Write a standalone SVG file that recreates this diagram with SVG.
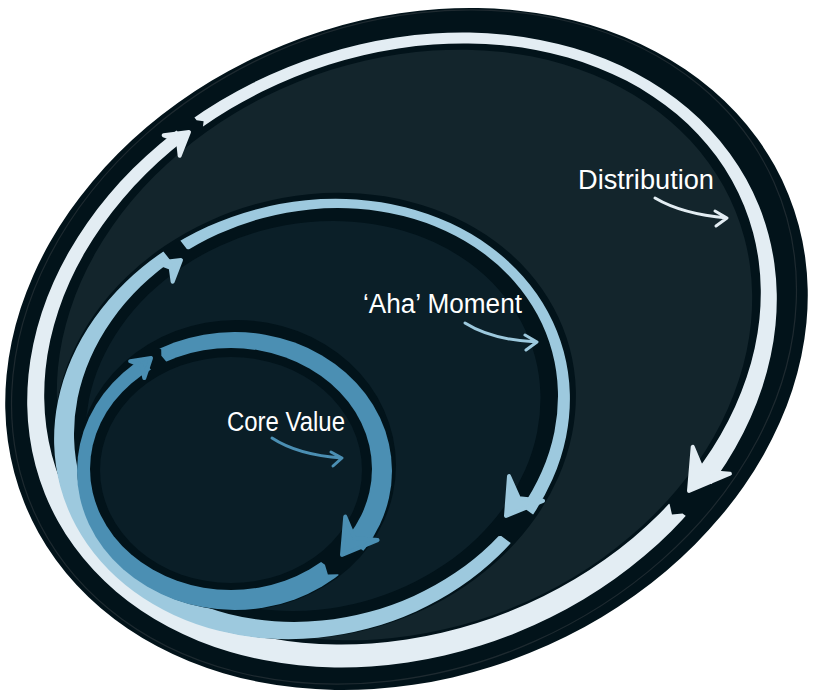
<svg xmlns="http://www.w3.org/2000/svg" width="825" height="697" viewBox="0 0 825 697">
<style>
.dark{fill:#02131a}
.lbl{font-family:"Liberation Sans","DejaVu Sans",sans-serif;font-size:27px;fill:#ffffff}
.m-on{fill:#fff}
.m-off{fill:#000}
.ah{stroke-linejoin:round;stroke-width:4}
.curl{fill:none;stroke-width:3;stroke-linecap:round;stroke-linejoin:round}
</style>
<defs>
<mask id="m1" maskUnits="userSpaceOnUse" x="0" y="0" width="825" height="697">
<ellipse class="m-on" cx="402" cy="350" rx="385" ry="305" transform="rotate(-22 402 350)"/>
<ellipse class="m-off" cx="402.5" cy="344" rx="368.5" ry="288" transform="rotate(-22 402.5 344)"/>
<polygon class="m-off" transform="translate(191 131) rotate(-38)" points="-11,-20 11,-20 11,-5 16,0 11,5 11,20 -11,20"/>
<polygon class="m-off" transform="translate(689 491) rotate(126)" points="-19,-24 22,-24 22,-8 29,0 22,8 22,24 -19,24"/>
</mask>
<mask id="m2" maskUnits="userSpaceOnUse" x="0" y="0" width="825" height="697">
<ellipse class="m-on" cx="312" cy="419" rx="260.6" ry="217" transform="rotate(-15 312 419)"/>
<ellipse class="m-off" cx="316" cy="415" rx="244.5" ry="204" transform="rotate(-15 316 415)"/>
<polygon class="m-off" transform="translate(182 259) rotate(-38)" points="-10,-20 10,-20 10,-5 14,0 10,5 10,20 -10,20"/>
<polygon class="m-off" transform="translate(506 516) rotate(126)" points="-17,-24 19,-24 19,-8 25,0 19,8 19,24 -17,24"/>
</mask>
<mask id="m3" maskUnits="userSpaceOnUse" x="0" y="0" width="825" height="697">
<ellipse class="m-on" cx="234.5" cy="471" rx="157.5" ry="139"/>
<ellipse class="m-off" cx="231" cy="469" rx="141" ry="121"/>
<polygon class="m-off" transform="translate(152 357) rotate(-40)" points="-9,-20 8,-20 8,-5 12,0 8,5 8,20 -9,20"/>
<polygon class="m-off" transform="translate(342 555) rotate(126)" points="-16,-24 18,-24 18,-8 24,0 18,8 18,24 -16,24"/>
</mask>
</defs>

<g id="outer">
<ellipse class="dark" cx="406.5" cy="349" rx="412" ry="328" transform="rotate(-22 406.5 349)"/>
<ellipse cx="404" cy="347" rx="405" ry="322" transform="rotate(-24 404 347)" fill="none" stroke="#1e2a30" stroke-width="1.2"/>
<ellipse cx="404.5" cy="345" rx="357" ry="284" transform="rotate(-22 404.5 345)" fill="#13252c"/>
<rect width="825" height="697" fill="#e3edf3" mask="url(#m1)"/>
<polygon class="ah" fill="#e3edf3" stroke="#e3edf3" transform="translate(189 132) rotate(-38)" points="0,0 -22,-13 -14,0 -22,13"/>
<polygon class="ah" fill="#e3edf3" stroke="#e3edf3" transform="translate(689 491) rotate(126)" points="0,0 -38,-23 -24,0 -38,23"/>
</g>

<g id="middle">
<ellipse class="dark" cx="315" cy="416" rx="263.6" ry="220" transform="rotate(-15 315 416)"/>
<ellipse cx="313" cy="416" rx="229.8" ry="192.3" transform="rotate(-15 313 416)" fill="#0b1f28"/>
<rect width="825" height="697" fill="#9dc9de" mask="url(#m2)"/>
<polygon class="ah" fill="#9dc9de" stroke="#9dc9de" transform="translate(181 260) rotate(-38)" points="0,0 -20,-12 -13,0 -20,12"/>
<polygon class="ah" fill="#9dc9de" stroke="#9dc9de" transform="translate(506 516) rotate(126)" points="0,0 -34,-21 -22,0 -34,21"/>
</g>

<g id="inner">
<ellipse class="dark" cx="236.5" cy="465.3" rx="159.5" ry="145.3"/>
<ellipse cx="231" cy="470" rx="131" ry="113" fill="#0a1e27"/>
<rect width="825" height="697" fill="#4b8fb3" mask="url(#m3)"/>
<polygon class="ah" fill="#4b8fb3" stroke="#4b8fb3" transform="translate(151 358) rotate(-40)" points="0,0 -18,-11 -12,0 -18,11"/>
<polygon class="ah" fill="#4b8fb3" stroke="#4b8fb3" transform="translate(342 555) rotate(126)" points="0,0 -33,-20 -21,0 -33,20"/>
</g>

<g id="connectors">
<path class="curl" stroke="#e3edf3" d="M655,198 Q682,214 727,218 M715,211 L727,218 L716,226"/>
<path class="curl" stroke="#9dc9de" d="M465,323 Q492,340 537,342 M525,335 L537,342 L526,350"/>
<path class="curl" stroke="#4b8fb3" d="M272,438 Q298,455 342,458 M331,452 L342,458 L333,466"/>
</g>

<g id="labels">
<text class="lbl" x="578" y="189" textLength="136" lengthAdjust="spacingAndGlyphs">Distribution</text>
<text class="lbl" x="363" y="313" textLength="159" lengthAdjust="spacingAndGlyphs">‘Aha’ Moment</text>
<text class="lbl" x="227" y="431" textLength="118" lengthAdjust="spacingAndGlyphs">Core Value</text>
</g>
</svg>
